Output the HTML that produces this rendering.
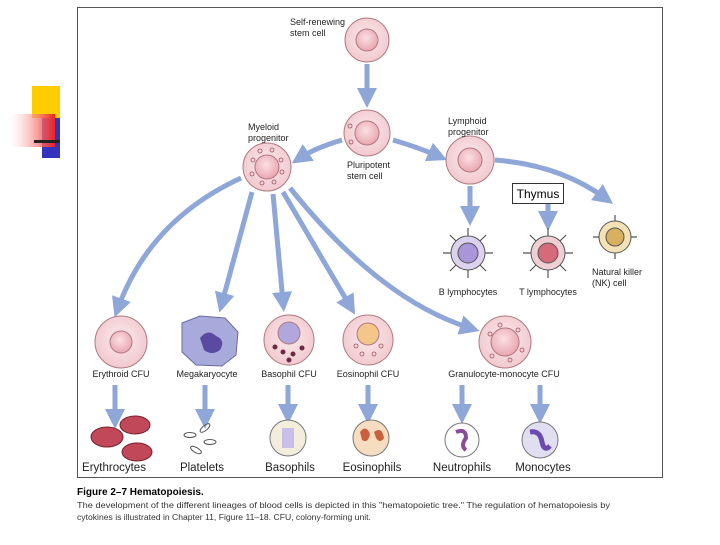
<!DOCTYPE html>
<html><head><style>
body{margin:0;background:#fff;width:720px;height:540px;overflow:hidden;font-family:"Liberation Sans",sans-serif}
</style></head><body>
<svg width="720" height="540" viewBox="0 0 720 540" xmlns="http://www.w3.org/2000/svg" font-family="Liberation Sans, sans-serif">
<defs>
<radialGradient id="pk" cx="50%" cy="45%" r="60%"><stop offset="0" stop-color="#fbeaec"/><stop offset="1" stop-color="#f0c6cc"/></radialGradient>
<radialGradient id="nu" cx="45%" cy="40%" r="60%"><stop offset="0" stop-color="#fbe0e4"/><stop offset="1" stop-color="#eaa6b0"/></radialGradient>
<marker id="ah" markerWidth="4" markerHeight="4" refX="2" refY="2" orient="auto" markerUnits="strokeWidth"><path d="M0,0 L4,2 L0,4 z" fill="#8ea6d8"/></marker>
<linearGradient id="rg" x1="1" x2="0"><stop offset="0" stop-color="#ee2222"/><stop offset="1" stop-color="#ffffff" stop-opacity="0.3"/></linearGradient>
</defs>
<rect x="32" y="86" width="28" height="32" fill="#ffcc00"/>
<rect x="42" y="118" width="18" height="40" fill="#3333bb"/>
<rect x="10" y="114" width="45" height="33" fill="url(#rg)"/>
<rect x="34" y="140" width="26" height="3" fill="#222"/>
<rect x="77.5" y="7.5" width="585" height="470" fill="#fff" stroke="#555" stroke-width="1"/>
<g stroke="#8ea6d8" stroke-width="5" fill="none" marker-end="url(#ah)">
<path d="M367,64 L367,98"/>
<path d="M342,140 Q315,148 300,158"/>
<path d="M393,140 Q420,148 438,156"/>
<path d="M241,178 Q150,220 118,308"/>
<path d="M252,192 L222,303"/>
<path d="M273,194 L283,302"/>
<path d="M283,192 L350,306"/>
<path d="M290,188 Q380,300 470,328"/>
<path d="M495,160 Q560,165 605,198"/>
<path d="M470,186 L470,216"/>
<path d="M548,204 L548,221"/>
<path d="M115,385 L115,419"/>
<path d="M205,385 L205,419"/>
<path d="M288,385 L288,414"/>
<path d="M368,385 L368,414"/>
<path d="M462,385 L462,414"/>
<path d="M540,385 L540,414"/>
</g>
<g stroke="#b07880" stroke-width="1">
<circle cx="367" cy="40" r="22" fill="url(#pk)"/><circle cx="367" cy="40" r="11" fill="url(#nu)"/>
<circle cx="367" cy="133" r="23" fill="url(#pk)"/><circle cx="367" cy="133" r="12" fill="url(#nu)"/>
<circle cx="267" cy="167" r="24" fill="url(#pk)"/><circle cx="267" cy="167" r="12" fill="url(#nu)"/>
<circle cx="470" cy="160" r="24" fill="url(#pk)"/><circle cx="470" cy="160" r="12" fill="url(#nu)"/>
<circle cx="121" cy="342" r="26" fill="url(#pk)"/><circle cx="121" cy="342" r="11" fill="url(#nu)"/>
<circle cx="289" cy="340" r="25" fill="url(#pk)"/><circle cx="289" cy="333" r="11" fill="#b0a8dd"/>
<circle cx="368" cy="340" r="25" fill="url(#pk)"/><circle cx="368" cy="334" r="11" fill="#f4c68a"/>
<circle cx="505" cy="342" r="26" fill="url(#pk)"/><circle cx="505" cy="342" r="14" fill="url(#nu)"/>
</g>
<g fill="none" stroke="#a05060" stroke-width="0.8">
<circle cx="253" cy="160" r="2"/><circle cx="260" cy="151" r="2"/><circle cx="272" cy="150" r="2"/><circle cx="281" cy="160" r="2"/><circle cx="282" cy="172" r="2"/><circle cx="274" cy="182" r="2"/><circle cx="262" cy="183" r="2"/><circle cx="252" cy="174" r="2"/>
<circle cx="350" cy="126" r="2"/><circle cx="351" cy="142" r="2"/>
<circle cx="490" cy="334" r="2"/><circle cx="500" cy="325" r="2"/><circle cx="518" cy="330" r="2"/><circle cx="522" cy="350" r="2"/><circle cx="510" cy="360" r="2"/><circle cx="492" cy="356" r="2"/>
<circle cx="356" cy="346" r="2"/><circle cx="362" cy="354" r="2"/><circle cx="374" cy="354" r="2"/><circle cx="381" cy="346" r="2"/>
</g>
<g fill="#6a2a44"><circle cx="275" cy="347" r="2.5"/><circle cx="283" cy="352" r="2.5"/><circle cx="293" cy="354" r="2.5"/><circle cx="302" cy="348" r="2.5"/><circle cx="289" cy="360" r="2.5"/></g>
<path d="M182,323 L200,316 L225,318 L238,332 L236,355 L222,366 L196,365 L182,352 Z" fill="#a8aadc" stroke="#6a6aa0"/>
<path d="M200,338 q8,-10 16,-2 q10,4 4,14 q-8,6 -16,0 z" fill="#5a4aa0"/>
<g stroke="#555" stroke-width="1.2">
<path d="M468,236 v-8 M468,270 v8 M451,253 h-8 M485,253 h8 M456,241 l-6,-6 M480,241 l6,-6 M456,265 l-6,6 M480,265 l6,6"/>
<path d="M548,236 v-8 M548,270 v8 M531,253 h-8 M565,253 h8 M536,241 l-6,-6 M560,241 l6,-6 M536,265 l-6,6 M560,265 l6,6"/>
<path d="M615,221 v-6 M615,253 v6 M599,237 h-6 M631,237 h6"/>
</g>
<g stroke="#555" stroke-width="1">
<circle cx="468" cy="253" r="17" fill="#dcd2f0"/><circle cx="468" cy="253" r="10" fill="#a896d8"/>
<circle cx="548" cy="253" r="17" fill="#f0cfd4"/><circle cx="548" cy="253" r="10" fill="#d76a7a"/>
<circle cx="615" cy="237" r="16" fill="#f4e2b6"/><circle cx="615" cy="237" r="9" fill="#d8b060"/>
</g>
<rect x="512.5" y="183.5" width="51" height="20" fill="#fff" stroke="#333"/>
<text x="538" y="198" font-size="12" text-anchor="middle">Thymus</text>
<g stroke="#7a2030" fill="#c04858"><ellipse cx="107" cy="437" rx="16" ry="10"/><ellipse cx="135" cy="425" rx="15" ry="9"/><ellipse cx="137" cy="452" rx="15" ry="9"/></g>
<g fill="none" stroke="#555"><ellipse cx="190" cy="435" rx="6" ry="2.5"/><ellipse cx="205" cy="428" rx="6" ry="2.5" transform="rotate(-40 205 428)"/><ellipse cx="210" cy="442" rx="6" ry="2.5"/><ellipse cx="196" cy="450" rx="6" ry="2.5" transform="rotate(30 196 450)"/></g>
<circle cx="288" cy="438" r="18" fill="#f3eedc" stroke="#777"/><path d="M282,428 h12 v20 h-12 z" fill="#c8c0e8"/>
<circle cx="371" cy="438" r="18" fill="#f6dcc0" stroke="#777"/><path d="M360,432 q6,-8 10,2 q-2,10 -8,6z M374,432 q8,-6 10,6 q-4,6 -8,0z" fill="#c86040"/>
<circle cx="462" cy="440" r="17" fill="#fff" stroke="#777"/><path d="M456,432 q10,-4 10,6 q-6,8 0,12" stroke="#8a4a9a" stroke-width="4" fill="none"/>
<circle cx="540" cy="440" r="18" fill="#e2def2" stroke="#777"/><path d="M530,432 q10,-2 12,10 q2,10 8,4" stroke="#6a4ab0" stroke-width="5" fill="none"/>
<g font-size="9" fill="#222">
<text x="290" y="25">Self-renewing</text><text x="290" y="36">stem cell</text>
<text x="248" y="130">Myeloid</text><text x="248" y="141">progenitor</text>
<text x="347" y="168">Pluripotent</text><text x="347" y="179">stem cell</text>
<text x="448" y="124">Lymphoid</text><text x="448" y="135">progenitor</text>
<text x="468" y="295" text-anchor="middle">B lymphocytes</text>
<text x="548" y="295" text-anchor="middle">T lymphocytes</text>
<text x="592" y="275">Natural killer</text><text x="592" y="286">(NK) cell</text>
<text x="121" y="377" text-anchor="middle">Erythroid CFU</text>
<text x="207" y="377" text-anchor="middle">Megakaryocyte</text>
<text x="289" y="377" text-anchor="middle">Basophil CFU</text>
<text x="368" y="377" text-anchor="middle">Eosinophil CFU</text>
<text x="504" y="377" text-anchor="middle">Granulocyte-monocyte CFU</text>
</g>
<g font-size="11.5" fill="#222" text-anchor="middle">
<text x="114" y="471">Erythrocytes</text><text x="202" y="471">Platelets</text>
<text x="290" y="471">Basophils</text><text x="372" y="471">Eosinophils</text>
<text x="462" y="471">Neutrophils</text><text x="543" y="471">Monocytes</text>
</g>
<text x="77" y="495" font-size="10" font-weight="bold">Figure 2–7   Hematopoiesis.</text>
<g font-size="8.6" fill="#333">
<text x="77" y="508" textLength="533" lengthAdjust="spacingAndGlyphs">The development of the different lineages of blood cells is depicted in this "hematopoietic tree." The regulation of hematopoiesis by</text>
<text x="77" y="520">cytokines is illustrated in Chapter 11, Figure 11–18. CFU, colony-forming unit.</text>
</g>
</svg>
</body></html>
